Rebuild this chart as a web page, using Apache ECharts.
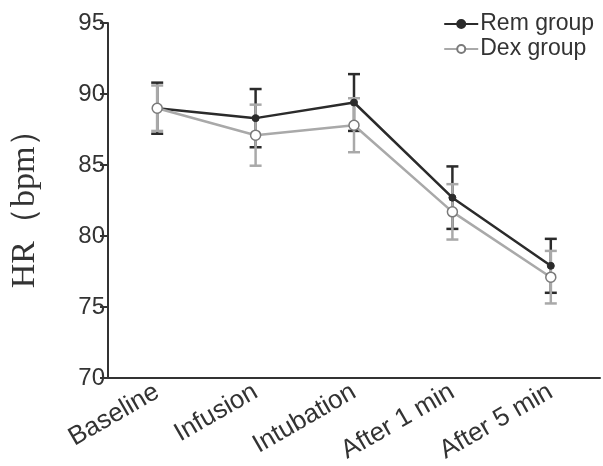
<!DOCTYPE html>
<html>
<head>
<meta charset="utf-8">
<script src="https://cdn.jsdelivr.net/npm/echarts@6/dist/echarts.min.js"></script>
<style>
html,body{margin:0;padding:0;background:#fff;}
#chart{width:603px;height:466px;}
</style>
</head>
<body>
<div id="chart"></div>
<script>
var categories = ['Baseline', 'Infusion', 'Intubation', 'After 1 min', 'After 5 min'];
var remMean = [89.0, 88.3, 89.4, 82.7, 77.9];
var remSD   = [1.8, 2.05, 2.0, 2.2, 1.9];
var dexMean = [89.0, 87.1, 87.8, 81.7, 77.1];
var dexSD   = [1.6, 2.15, 1.9, 1.95, 1.85];
var yTicks  = [70, 75, 80, 85, 90, 95];

var remColor = '#2b2b2b';
var dexColor = '#a9a9a9';

function errData(mean, sd) {
  return mean.map(function (m, i) { return [i, m - sd[i], m + sd[i]]; });
}
function errSeries(name, data, color) {
  return {
    type: 'custom',
    name: name + ' err',
    data: data,
    z: 2,
    silent: true,
    renderItem: function (params, api) {
      var x = api.value(0);
      var lo = api.coord([x, api.value(1)]);
      var hi = api.coord([x, api.value(2)]);
      var hw = 6;
      var style = { stroke: color, lineWidth: 2.5, fill: null };
      return {
        type: 'group',
        children: [
          { type: 'line', shape: { x1: lo[0], y1: lo[1], x2: hi[0], y2: hi[1] }, style: style },
          { type: 'line', shape: { x1: lo[0] - hw, y1: lo[1], x2: lo[0] + hw, y2: lo[1] }, style: style },
          { type: 'line', shape: { x1: hi[0] - hw, y1: hi[1], x2: hi[0] + hw, y2: hi[1] }, style: style }
        ]
      };
    }
  };
}

var chart = echarts.init(document.getElementById('chart'));
chart.setOption({
  animation: false,
  backgroundColor: '#fff',
  grid: { left: 105, right: 3, top: 23, bottom: 88 },
  legend: {
    orient: 'vertical',
    right: 4,
    top: 7,
    itemWidth: 34,
    itemHeight: 10,
    itemGap: 1,
    data: ['Rem group', 'Dex group'],
    textStyle: { fontFamily: 'Liberation Sans', fontSize: 23, color: '#333', lineHeight: 24, padding: [0, 0, 0, -3] }
  },
  xAxis: {
    type: 'category',
    data: categories,
    boundaryGap: true,
    axisLine: { lineStyle: { color: '#333', width: 2 } },
    axisTick: { alignWithLabel: true, length: 6, lineStyle: { color: '#333', width: 2 } },
    axisLabel: { rotate: 30, margin: 12, fontFamily: 'Liberation Sans', fontSize: 26, color: '#333', interval: 0 },
    splitLine: { show: false }
  },
  yAxis: {
    type: 'value',
    min: yTicks[0],
    max: yTicks[yTicks.length - 1],
    interval: 5,
    name: 'HR（bpm）',
    nameLocation: 'middle',
    nameGap: 66,
    nameTextStyle: { fontFamily: 'Liberation Serif', fontSize: 34, color: '#333' },
    axisLine: { show: true, lineStyle: { color: '#333', width: 2 } },
    axisTick: { show: true, length: 8, lineStyle: { color: '#333', width: 2 } },
    axisLabel: { margin: 3, fontFamily: 'Liberation Sans', fontSize: 24, color: '#333' },
    splitLine: { show: false }
  },
  series: [
    errSeries('Rem group', errData(remMean, remSD), remColor),
    errSeries('Dex group', errData(dexMean, dexSD), dexColor),
    {
      name: 'Rem group',
      type: 'line',
      data: remMean,
      z: 3,
      symbol: 'circle',
      symbolSize: 7,
      lineStyle: { color: remColor, width: 2.5 },
      itemStyle: { color: remColor, borderColor: remColor, borderWidth: 1 }
    },
    {
      name: 'Dex group',
      type: 'line',
      data: dexMean,
      z: 4,
      symbol: 'circle',
      symbolSize: 10,
      lineStyle: { color: dexColor, width: 2.5 },
      itemStyle: { color: '#fff', borderColor: '#7a7a7a', borderWidth: 1.5 }
    }
  ]
});
</script>
</body>
</html>
